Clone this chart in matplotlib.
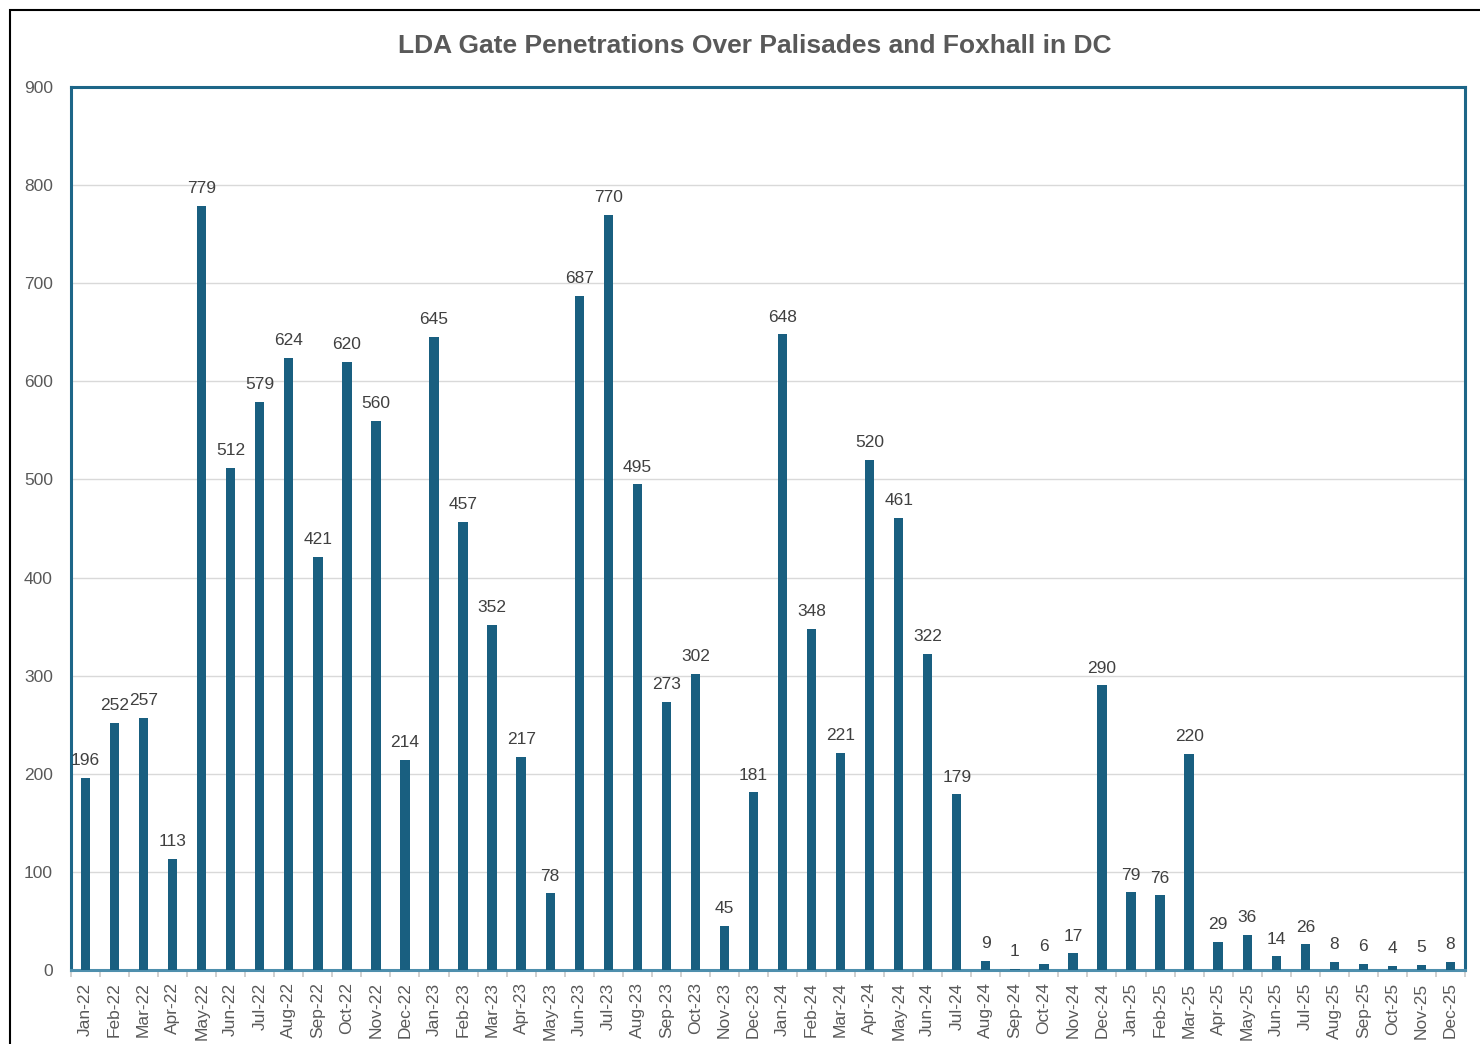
import matplotlib
matplotlib.use("Agg")
import matplotlib.pyplot as plt
from matplotlib.patches import Rectangle
import numpy as np

months = ["Jan", "Feb", "Mar", "Apr", "May", "Jun", "Jul", "Aug", "Sep", "Oct", "Nov", "Dec"]
years = ["22", "23", "24", "25"]
categories = [f"{m}-{y}" for y in years for m in months]

values_2022 = [196, 252, 257, 113, 779, 512, 579, 624, 421, 620, 560, 214]
values_2023 = [645, 457, 352, 217, 78, 687, 770, 495, 273, 302, 45, 181]
values_2024 = [648, 348, 221, 520, 461, 322, 179, 9, 1, 6, 17, 290]
values_2025 = [79, 76, 220, 29, 36, 14, 26, 8, 6, 4, 5, 8]
values = values_2022 + values_2023 + values_2024 + values_2025

title = "LDA Gate Penetrations Over Palisades and Foxhall in DC"
yticks = list(range(0, 901, 100))

plt.rcParams['font.family'] = ['Liberation Sans', 'DejaVu Sans']

bar_color = "#195F80"
frame_color = "#1D6688"
text_gray = "#595959"

fig = plt.figure(figsize=(14.8, 10.44), dpi=100)
ax = fig.add_axes([71/1480, 1 - 970/1044, (1465-71)/1480, (970-87)/1044])

x = np.arange(len(categories))
bars = ax.bar(x, values, width=0.32, color=bar_color, zorder=3)

for xi, v in zip(x, values):
    ax.annotate(str(v), (xi, v), xytext=(0, 7), textcoords="offset points",
                ha="center", va="bottom", fontsize=12.5, color="#404040")

ax.set_xlim(-0.5, len(categories) - 0.5)
ax.set_ylim(0, 900)
ax.set_yticks(yticks)
ax.set_yticklabels([str(t) for t in yticks], fontsize=12.5, color=text_gray)
ax.tick_params(axis="y", length=0, pad=13)
ax.set_xticks(x)
ax.set_xticklabels(categories, rotation=90, fontsize=12.5, color=text_gray)
ax.tick_params(axis="x", which="major", length=0, pad=9)
ax.set_xticks(np.arange(-0.5, len(categories), 1), minor=True)
ax.tick_params(axis="x", which="minor", length=5, width=1.2, color="#C8C8C8", direction="out")

ax.grid(axis="y", color="#D9D9D9", linewidth=1.0, zorder=0)
ax.set_axisbelow(True)

for side in ["left", "top", "right"]:
    ax.spines[side].set_color(frame_color)
    ax.spines[side].set_linewidth(2.2)
ax.spines["bottom"].set_color("#4E8FAD")
ax.spines["bottom"].set_linewidth(2.2)

fig.text(755/1480, 1 - 46/1044, title, ha="center", va="center",
         fontsize=19, fontweight="bold", color=text_gray,
         family=["Liberation Sans Narrow", "Liberation Sans", "DejaVu Sans"])

# outer chart border (cropped at right and bottom)
fig.patches.append(Rectangle((10/1480, -0.05), 1.2, 1 - 10/1044 + 0.05,
                             transform=fig.transFigure, fill=False,
                             edgecolor="black", linewidth=1.5, zorder=0))

fig.savefig("out.png", dpi=100)
